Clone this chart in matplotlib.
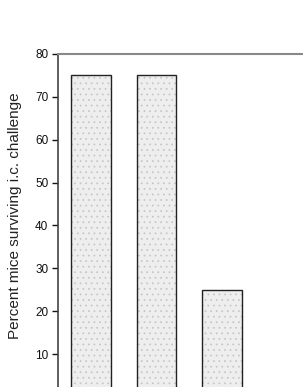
import matplotlib
matplotlib.use("Agg")
import matplotlib.pyplot as plt

plt.rcParams['font.family'] = ['Liberation Sans', 'DejaVu Sans']
plt.rcParams['hatch.linewidth'] = 0.5

# percent of mice surviving, one bar per group (only three groups visible)
groups = [0, 1, 2]
survival = [75, 75, 25]
y_ticks = [10, 20, 30, 40, 50, 60, 70, 80]

W, H = 303, 387
fig = plt.figure(figsize=(W / 100, H / 100), dpi=100)

# the reference is a crop: zero line sits below the picture, right edge runs off
left_px, top_px, zero_px, right_px = 58, 54, 397, 360
ax = fig.add_axes([left_px / W, (H - zero_px) / H,
                   (right_px - left_px) / W, (zero_px - top_px) / H])

# light stipple fill, then the dark outline on top
ax.bar(groups, survival, width=0.61, color='#eeeeee', edgecolor='#c4c4c4',
       linewidth=0, hatch='...', zorder=2)
ax.bar(groups, survival, width=0.61, fill=False, edgecolor='#222222',
       linewidth=1.0, zorder=3)

step = 65.5
ax.set_xlim(-(91 - left_px) / step, (right_px - 91) / step)
ax.set_ylim(0, 80)
ax.set_yticks(y_ticks)
ax.set_xticks([])
ax.tick_params(axis='y', direction='out', length=4, width=1, labelsize=8.5,
               colors='#111111', pad=3)

for side in ['right', 'bottom']:
    ax.spines[side].set_visible(False)
ax.spines['left'].set_color('#444444')
ax.spines['left'].set_linewidth(1.2)
ax.spines['top'].set_color('#888888')
ax.spines['top'].set_linewidth(1.5)

ax.set_ylabel('Percent mice surviving i.c. challenge', fontsize=11,
              color='#222222')
ax.yaxis.set_label_coords((22 - left_px) / (right_px - left_px), 0.528)

fig.savefig('out.png', dpi=100)
